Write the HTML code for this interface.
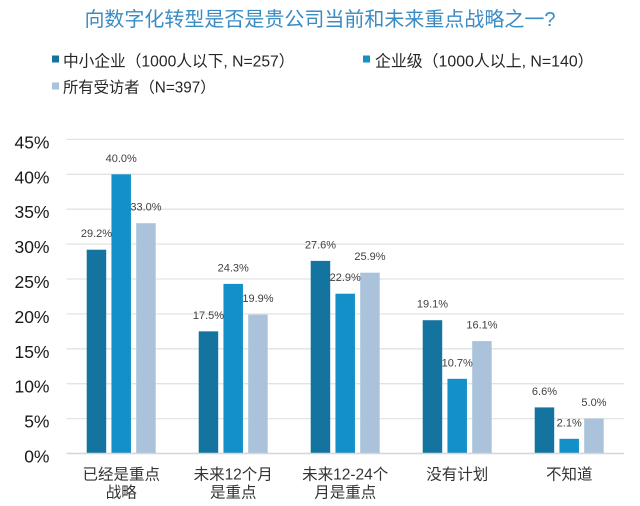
<!DOCTYPE html>
<html>
<head>
<meta charset="utf-8">
<style>
  html, body { margin: 0; padding: 0; background: #ffffff; }
  body { width: 640px; height: 506px; overflow: hidden; }
  svg { display: block; }
  text { font-family: "Liberation Sans", "Noto Sans CJK SC", sans-serif; }
</style>
</head>
<body>
<svg width="640" height="506" viewBox="0 0 640 506" xmlns="http://www.w3.org/2000/svg">
  <rect x="0" y="0" width="640" height="506" fill="#ffffff"/>

  <!-- Title -->
  <text x="320" y="20" font-size="20" fill="#3a8cc3" text-anchor="middle" dominant-baseline="central">向数字化转型是否是贵公司当前和未来重点战略之一?</text>

  <!-- Legend -->
  <rect x="52" y="55.5" width="7" height="7" fill="#13749f"/>
  <text x="63" y="62" font-size="15.7" fill="#262626" dominant-baseline="central">中小企业（1000人以下, N=257）</text>
  <rect x="363" y="55.5" width="7" height="7" fill="#1390c8"/>
  <text x="375" y="62" font-size="15.9" fill="#262626" dominant-baseline="central">企业级（1000人以上, N=140）</text>
  <rect x="52" y="82.5" width="7" height="7" fill="#aac3db"/>
  <text x="63" y="88" font-size="15.3" fill="#262626" dominant-baseline="central">所有受访者（N=397）</text>

  <!-- Gridlines -->
  <g stroke="#e3e3e3" stroke-width="1.3">
    <line x1="66.5" y1="418.6" x2="624" y2="418.6"/>
    <line x1="66.5" y1="383.7" x2="624" y2="383.7"/>
    <line x1="66.5" y1="348.8" x2="624" y2="348.8"/>
    <line x1="66.5" y1="313.9" x2="624" y2="313.9"/>
    <line x1="66.5" y1="279.0" x2="624" y2="279.0"/>
    <line x1="66.5" y1="244.1" x2="624" y2="244.1"/>
    <line x1="66.5" y1="209.2" x2="624" y2="209.2"/>
    <line x1="66.5" y1="174.3" x2="624" y2="174.3"/>
    <line x1="66.5" y1="139.4" x2="624" y2="139.4"/>
  </g>

  <!-- Y axis labels -->
  <g font-size="17.5" fill="#1a1a1a" text-anchor="end" dominant-baseline="central">
    <text x="49.5" y="456.5">0%</text>
    <text x="49.5" y="421.6">5%</text>
    <text x="49.5" y="386.7">10%</text>
    <text x="49.5" y="351.8">15%</text>
    <text x="49.5" y="316.9">20%</text>
    <text x="49.5" y="282.0">25%</text>
    <text x="49.5" y="247.1">30%</text>
    <text x="49.5" y="212.2">35%</text>
    <text x="49.5" y="177.3">40%</text>
    <text x="49.5" y="142.4">45%</text>
  </g>

  <!-- Bars: series 1 (dark) -->
  <g fill="#13749f">
    <rect x="86.7" y="249.7" width="19.5" height="203.8"/>
    <rect x="198.7" y="331.35" width="19.5" height="122.15"/>
    <rect x="310.7" y="260.9" width="19.5" height="192.6"/>
    <rect x="422.7" y="320.2" width="19.5" height="133.3"/>
    <rect x="534.7" y="407.4" width="19.5" height="46.1"/>
  </g>
  <!-- Bars: series 2 (mid) -->
  <g fill="#1390c8">
    <rect x="111.45" y="174.3" width="19.5" height="279.2"/>
    <rect x="223.45" y="283.9" width="19.5" height="169.6"/>
    <rect x="335.45" y="293.7" width="19.5" height="159.8"/>
    <rect x="447.45" y="378.8" width="19.5" height="74.7"/>
    <rect x="559.45" y="438.8" width="19.5" height="14.7"/>
  </g>
  <!-- Bars: series 3 (light) -->
  <g fill="#aac3db">
    <rect x="136.2" y="223.2" width="19.5" height="230.3"/>
    <rect x="248.2" y="314.6" width="19.5" height="138.9"/>
    <rect x="360.2" y="272.7" width="19.5" height="180.8"/>
    <rect x="472.2" y="341.1" width="19.5" height="112.4"/>
    <rect x="584.2" y="418.6" width="19.5" height="34.9"/>
  </g>

  <!-- X axis line -->
  <line x1="66.5" y1="453.5" x2="624" y2="453.5" stroke="#d6d6d6" stroke-width="1.5"/>

  <!-- Data labels -->
  <g font-size="11" fill="#404040" text-anchor="middle" dominant-baseline="central">
    <text x="96.45" y="234.2">29.2%</text>
    <text x="121.2" y="158.8">40.0%</text>
    <text x="145.95" y="207.7">33.0%</text>

    <text x="208.45" y="315.85">17.5%</text>
    <text x="233.2" y="268.4">24.3%</text>
    <text x="257.95" y="299.1">19.9%</text>

    <text x="320.45" y="245.4">27.6%</text>
    <text x="345.2" y="278.2">22.9%</text>
    <text x="369.95" y="257.2">25.9%</text>

    <text x="432.45" y="304.7">19.1%</text>
    <text x="457.2" y="363.3">10.7%</text>
    <text x="481.95" y="325.6">16.1%</text>

    <text x="544.45" y="391.9">6.6%</text>
    <text x="569.2" y="423.3">2.1%</text>
    <text x="593.95" y="403.1">5.0%</text>
  </g>

  <!-- X category labels -->
  <g font-size="15.5" fill="#333333" text-anchor="middle" dominant-baseline="central">
    <text x="121.2" y="475">已经是重点</text>
    <text x="121.2" y="493">战略</text>
    <text x="233.2" y="475">未来12个月</text>
    <text x="233.2" y="493">是重点</text>
    <text x="345.2" y="475">未来12-24个</text>
    <text x="345.2" y="493">月是重点</text>
    <text x="457.2" y="475">没有计划</text>
    <text x="569.2" y="475">不知道</text>
  </g>
</svg>
</body>
</html>
